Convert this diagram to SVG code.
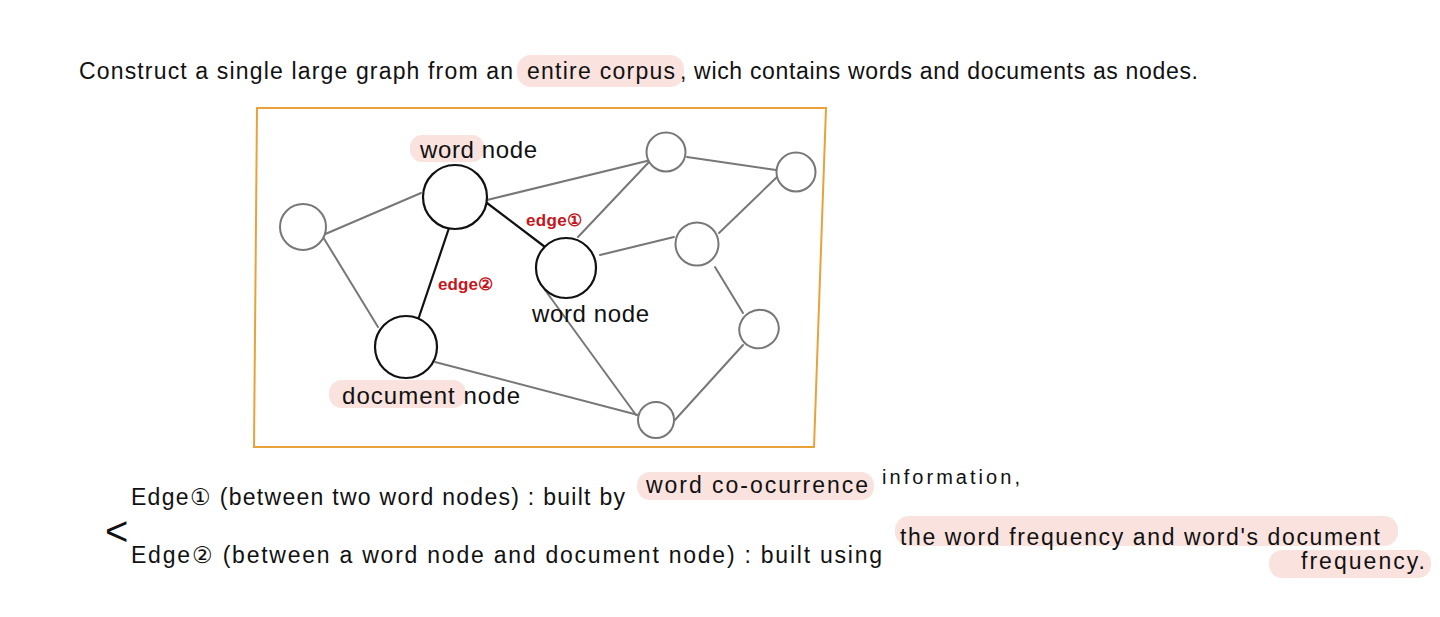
<svg xmlns="http://www.w3.org/2000/svg" width="1440" height="617" viewBox="0 0 1440 617">
<style>
.t{font-family:"Liberation Sans","Noto Sans",sans-serif;fill:#111;}
.hl{fill:#fae3df;}
.wn{fill:#fff;stroke:#111;stroke-width:2.2;}
.gn{fill:#fff;stroke:#777;stroke-width:2;}
.ge{stroke:#777;stroke-width:2;fill:none;stroke-linecap:round;}
.be{stroke:#111;stroke-width:2.2;fill:none;stroke-linecap:round;}
.red{font-family:"Liberation Sans","Noto Sans",sans-serif;fill:#c4161c;font-weight:bold;font-size:17px;}
</style>
<rect width="1440" height="617" fill="#fff"/>

<g id="title">
<rect class="hl" x="517" y="55" width="167" height="32" rx="14"/>
<text class="t" x="79" y="79" font-size="23" textLength="434" lengthAdjust="spacing">Construct a single large graph from an</text>
<text class="t" x="527" y="79" font-size="23" textLength="148" lengthAdjust="spacing">entire corpus</text>
<text class="t" x="680" y="79" font-size="23" textLength="518" lengthAdjust="spacing">, wich contains words and documents as nodes.</text>
</g>

<polygon id="frame" points="257,108 826,108 814,447 254,447" fill="none" stroke="#e9a23b" stroke-width="2"/>

<g id="edges">
<line class="ge" x1="323" y1="235" x2="421" y2="193"/>
<line class="ge" x1="323" y1="237" x2="378" y2="327"/>
<line class="ge" x1="487" y1="200" x2="651" y2="160"/>
<line class="be" x1="487" y1="203" x2="545" y2="247"/>
<line class="be" x1="449" y1="228" x2="418" y2="320"/>
<line class="ge" x1="578" y1="237" x2="649" y2="162"/>
<line class="ge" x1="600" y1="255" x2="674" y2="237"/>
<line class="ge" x1="545" y1="290" x2="636" y2="415"/>
<line class="ge" x1="435" y1="362" x2="638" y2="415"/>
<line class="ge" x1="687" y1="157" x2="776" y2="170"/>
<line class="ge" x1="777" y1="177" x2="719" y2="233"/>
<line class="ge" x1="715" y1="267" x2="743" y2="313"/>
<line class="ge" x1="743" y1="345" x2="674" y2="421"/>
</g>

<g id="node-left"><circle class="gn" cx="303" cy="227" r="23"/></g>
<g id="node-word-top"><circle class="wn" cx="455" cy="197" r="32"/></g>
<g id="node-word-mid"><circle class="wn" cx="566" cy="268" r="30"/></g>
<g id="node-doc"><circle class="wn" cx="406" cy="347" r="31"/></g>
<g id="node-tr1"><circle class="gn" cx="666" cy="152" r="19.5"/></g>
<g id="node-tr2"><circle class="gn" cx="796" cy="172" r="19.5"/></g>
<g id="node-mr"><circle class="gn" cx="697" cy="244" r="21.5"/></g>
<g id="node-rl"><ellipse class="gn" cx="759" cy="329" rx="20" ry="19" transform="rotate(-30 759 329)"/></g>
<g id="node-bot"><circle class="gn" cx="656" cy="420" r="18"/></g>

<g id="labels">
<rect class="hl" x="410" y="135" width="74" height="27" rx="12"/>
<text class="t" x="420" y="158" font-size="24" textLength="117" lengthAdjust="spacing">word node</text>
<text class="red" x="526" y="226" textLength="56" lengthAdjust="spacing">edge①</text>
<text class="red" x="438" y="290" textLength="55" lengthAdjust="spacing">edge②</text>
<text class="t" x="532" y="322" font-size="24" textLength="117" lengthAdjust="spacing">word node</text>
<rect class="hl" x="329" y="380" width="137" height="28" rx="13"/>
<text class="t" x="342" y="404" font-size="24" textLength="178" lengthAdjust="spacing">document node</text>
</g>

<g id="notes">
<text class="t" x="105" y="545" font-size="40" font-weight="normal" transform="translate(0,0)">&lt;</text>
<rect class="hl" x="637" y="472" width="237" height="28" rx="13"/>
<text class="t" x="131" y="505" font-size="23" textLength="494" lengthAdjust="spacing">Edge① (between two word nodes) : built by</text>
<text class="t" x="646" y="493" font-size="23" textLength="222" lengthAdjust="spacing">word co-ocurrence</text>
<text class="t" x="882" y="484" font-size="20" textLength="138" lengthAdjust="spacing">information,</text>
<rect class="hl" x="895" y="516" width="503" height="30" rx="14"/>
<text class="t" x="131" y="563" font-size="23" textLength="751" lengthAdjust="spacing">Edge② (between a word node and document node) : built using</text>
<text class="t" x="900" y="545" font-size="23" textLength="480" lengthAdjust="spacing">the word frequency and word's document</text>
<rect class="hl" x="1269" y="550" width="162" height="28" rx="13"/>
<text class="t" x="1301" y="569" font-size="23" textLength="124" lengthAdjust="spacing">frequency.</text>
</g>
</svg>
